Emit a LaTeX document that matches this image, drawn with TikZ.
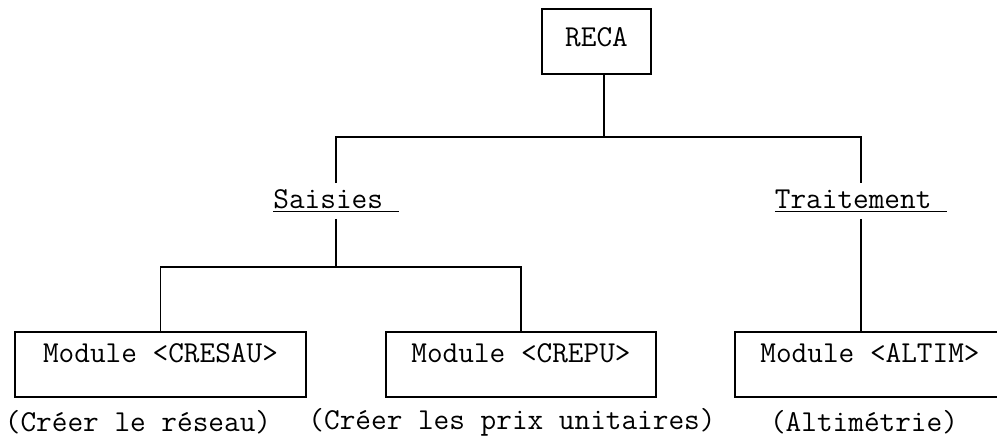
\documentclass[tikz,border=0pt]{standalone}
\usepackage{fontspec}
\usepackage{tikz}
\usetikzlibrary{positioning, calc}

\begin{document}
\begin{tikzpicture}[
    x=0.5pt, y=-0.5pt, line width=0.8pt,
    every node/.style={font=\ttfamily\fontsize{15.2}{18}\selectfont},
    module/.style={draw, rectangle, minimum width=135pt, minimum height=32.5pt, inner sep=0pt, text height=8pt, text depth=10pt},
    group/.style={inner sep=0pt, minimum height=17pt},
    caption/.style={inner sep=0pt}
]
    \useasboundingbox (0,0) rectangle (997,439);

    % ================= ROOT =================
    \node[module, minimum width=54.5pt, text height=8pt, text depth=3pt] (reca) at (596.5, 41.5) {RECA};

    % ================= GROUPS =================
    \node[group] (saisies) at (336, 201) {\underline{Saisies\ }};
    \node[group] (traitement) at (861, 201) {\underline{Traitement\ }};

    % ================= MODULES =================
    \node[module, minimum width=145.5pt] (cresau) at (160.5, 364.5) {Module <CRESAU>};
    \node[module] (crepu) at (521, 364.5) {Module <CREPU>};
    \node[module] (altim) at (870, 364.5) {Module <ALTIM>};

    % ================= CAPTIONS =================
    \node[caption] (cap_cresau) at (138, 422) {(Créer le réseau)};
    \node[caption] (cap_crepu) at (512, 422) {(Créer les prix unitaires)};
    \node[caption] (cap_altim) at (864, 422) {(Altimétrie)};

    % ================= CONNECTIONS =================
    \coordinate (fork_top) at (604, 137);
    \coordinate (fork_saisies) at (336, 267);

    % RECA -> Saisies, Traitement
    \draw (reca.south -| fork_top) -- (fork_top);
    \draw (saisies.north) |- (fork_top) -| (traitement.north);

    % Saisies -> CRESAU, CREPU
    \draw (saisies.south) -- (fork_saisies);
    \draw (cresau.north) |- (fork_saisies) -| (crepu.north);

    % Traitement -> ALTIM
    \draw (traitement.south) -- (traitement.south |- altim.north);

\end{tikzpicture}
\end{document}
